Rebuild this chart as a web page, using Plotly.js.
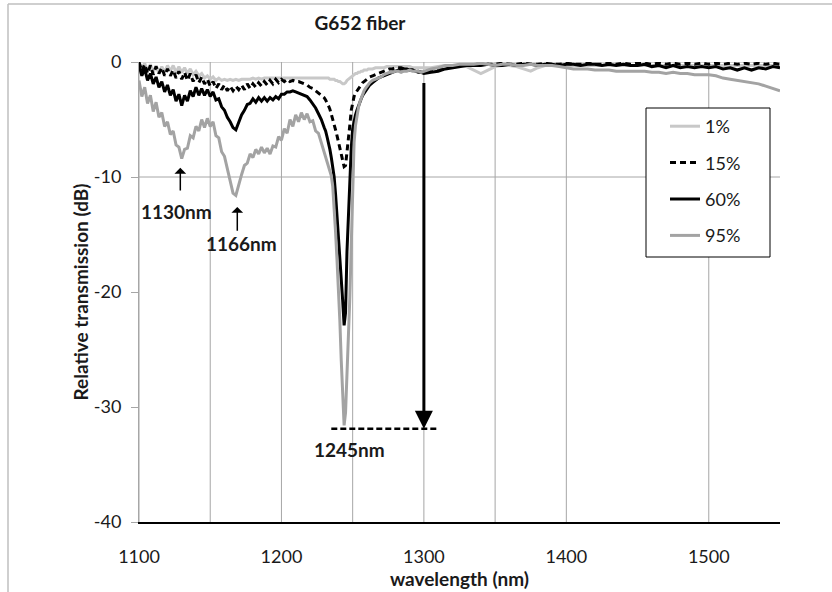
<!DOCTYPE html>
<html><head><meta charset="utf-8">
<script src="https://cdn.plot.ly/plotly-3.0.1.min.js"></script>
<style>html,body{margin:0;padding:0;background:#fff}#chart{width:832px;height:592px}</style>
</head><body><div id="chart"></div>
<script>
// wavelength samples (nm)
const wavelength = [
 1100,1102,1104,1106,1108,1110,1112,1114,1116,1118,
 1120,1122,1124,1126,1128,1130,1132,1134,1136,1138,
 1140,1142,1144,1146,1148,1150,1152,1154,1156,1158,
 1160,1162,1164,1166,1168,1170,1172,1174,1176,1178,
 1180,1182,1184,1186,1188,1190,1192,1194,1196,1198,
 1200,1202,1204,1206,1208,1210,1212,1214,1216,1218,
 1220,1222,1224,1226,1228,1230,
 1231,1232,1233,1234,1235,1236,1237,1238,1239,1240,
 1241,1242,1243,1244,1245,1246,1247,1248,1249,1250,
 1251,1252,1253,1254,1255,1256,1257,1258,1259,1260,
 1261,1262,
 1264,1266,1268,1270,1272,1274,1276,1278,1280,1282,
 1284,1286,1288,1290,1292,1294,1296,1298,1300,
 1305,1310,1315,1320,1325,1330,1335,1340,1345,1350,
 1355,1360,1365,1370,1375,1380,1385,1390,1395,1400,
 1405,1410,1415,1420,1425,1430,1435,1440,1445,1450,
 1455,1460,1465,1470,1475,1480,1485,1490,1495,1500,
 1505,1510,1515,1520,1525,1530,1535,1540,1545,1550
];

const trans1 = [
 -0.1,-0.6,-0.1,-0.8,-0.2,-0.9,-0.3,-1.0,-0.4,-0.9,
 -0.3,-0.8,-0.3,-0.9,-0.4,-0.9,-0.5,-1.0,-0.6,-1.1,
 -0.8,-1.2,-1.0,-1.4,-1.2,-1.5,-1.3,-1.6,-1.4,-1.6,
 -1.5,-1.6,-1.5,-1.6,-1.5,-1.6,-1.5,-1.5,-1.5,-1.5,
 -1.4,-1.5,-1.4,-1.5,-1.4,-1.4,-1.4,-1.4,-1.4,-1.4,
 -1.4,-1.4,-1.4,-1.4,-1.4,-1.4,-1.4,-1.4,-1.4,-1.4,
 -1.4,-1.4,-1.4,-1.4,-1.4,-1.4,
 -1.4,-1.4,-1.4,-1.5,-1.5,-1.5,-1.5,-1.6,-1.6,-1.7,
 -1.7,-1.8,-1.9,-1.9,-1.8,-1.6,-1.5,-1.4,-1.3,-1.2,
 -1.1,-1.0,-1.0,-0.9,-0.9,-0.8,-0.8,-0.7,-0.7,-0.7,
 -0.6,-0.6,
 -0.6,-0.5,-0.5,-0.5,-0.5,-0.4,-0.4,-0.4,-0.4,-0.4,
 -0.4,-0.4,-0.4,-0.4,-0.5,-0.5,-0.5,-0.5,-0.5,
 -0.5,-0.4,-0.3,-0.3,-0.3,-0.4,-0.7,-1.0,-0.7,-0.4,
 -0.3,-0.3,-0.4,-0.6,-0.8,-0.5,-0.3,-0.3,-0.3,-0.3,
 -0.3,-0.3,-0.3,-0.3,-0.3,-0.3,-0.3,-0.3,-0.3,-0.3,
 -0.3,-0.3,-0.3,-0.3,-0.3,-0.3,-0.3,-0.3,-0.3,-0.3,
 -0.3,-0.3,-0.3,-0.3,-0.3,-0.3,-0.3,-0.3,-0.3,-0.3
];

const trans15 = [
 0.0,-0.8,-0.2,-1.0,-0.3,-1.1,-0.4,-1.0,-0.5,-1.2,
 -0.6,-1.2,-0.7,-1.4,-0.8,-1.5,-0.9,-1.6,-1.0,-1.7,
 -1.1,-1.8,-1.3,-1.9,-1.5,-2.1,-1.7,-2.3,-1.9,-2.4,
 -2.0,-2.5,-2.1,-2.5,-2.1,-2.4,-2.0,-2.4,-1.9,-2.3,
 -1.9,-2.2,-1.8,-2.1,-1.7,-2.0,-1.6,-1.9,-1.5,-1.8,
 -1.5,-1.7,-1.5,-1.7,-1.6,-1.7,-1.7,-1.8,-1.9,-2.0,
 -2.2,-2.3,-2.5,-2.7,-2.9,-3.1,
 -3.3,-3.5,-3.8,-4.1,-4.5,-4.9,-5.4,-5.9,-6.4,-7.0,
 -7.6,-8.2,-8.8,-9.1,-9.0,-8.0,-6.8,-5.5,-4.2,-3.5,
 -3.0,-2.7,-2.5,-2.3,-2.1,-1.9,-1.8,-1.7,-1.6,-1.5,
 -1.4,-1.3,
 -1.2,-1.1,-1.0,-0.9,-0.8,-0.7,-0.6,-0.6,-0.5,-0.5,
 -0.5,-0.6,-0.6,-0.7,-0.7,-0.8,-0.8,-0.9,-0.9,
 -0.8,-0.7,-0.5,-0.4,-0.3,-0.3,-0.2,-0.2,-0.2,-0.2,
 -0.1,-0.2,-0.2,-0.1,-0.2,-0.2,-0.1,-0.2,-0.2,-0.1,
 -0.2,-0.2,-0.1,-0.2,-0.2,-0.1,-0.2,-0.1,-0.2,-0.1,
 -0.1,-0.2,-0.1,-0.2,-0.1,-0.2,-0.1,-0.2,-0.1,-0.2,
 -0.1,-0.2,-0.1,-0.2,-0.1,-0.2,-0.1,-0.2,-0.1,-0.2
];

const trans60 = [
 -0.3,-1.2,-0.6,-1.6,-1.0,-1.9,-1.3,-2.2,-1.7,-2.6,
 -2.0,-2.9,-2.4,-3.4,-2.8,-3.8,-2.9,-3.4,-2.5,-3.0,
 -2.2,-2.9,-2.3,-2.9,-2.4,-3.0,-2.6,-3.3,-3.2,-3.9,
 -4.2,-4.8,-5.2,-5.7,-5.9,-5.2,-4.6,-4.2,-3.7,-3.6,
 -3.2,-3.5,-3.1,-3.4,-3.1,-3.4,-3.1,-3.3,-3.0,-3.2,
 -2.8,-2.8,-2.6,-2.6,-2.5,-2.6,-2.7,-2.8,-2.9,-3.0,
 -3.3,-3.6,-4.0,-4.5,-5.0,-5.7,
 -6.0,-6.5,-7.0,-7.6,-8.3,-9.2,-10.0,-11.5,-13.2,-15.0,
 -16.8,-18.8,-20.8,-22.9,-21.8,-16.5,-13.0,-10.0,-7.5,-5.8,
 -5.0,-4.6,-4.2,-3.8,-3.5,-3.2,-2.9,-2.7,-2.5,-2.3,
 -2.1,-2.0,
 -1.8,-1.6,-1.4,-1.3,-1.2,-1.1,-1.0,-0.9,-0.8,-0.7,
 -0.6,-0.6,-0.6,-0.7,-0.7,-0.8,-0.9,-0.9,-1.0,
 -0.9,-0.8,-0.6,-0.5,-0.4,-0.3,-0.3,-0.3,-0.2,-0.3,
 -0.3,-0.2,-0.3,-0.2,-0.2,-0.3,-0.2,-0.2,-0.3,-0.2,
 -0.2,-0.3,-0.2,-0.2,-0.3,-0.2,-0.3,-0.2,-0.3,-0.3,
 -0.2,-0.4,-0.3,-0.5,-0.3,-0.5,-0.4,-0.5,-0.4,-0.5,
 -0.4,-0.6,-0.5,-0.7,-0.5,-0.7,-0.5,-0.6,-0.4,-0.5
];

const trans95 = [
 -1.6,-3.0,-2.2,-3.6,-2.9,-4.3,-3.5,-4.8,-4.4,-5.6,
 -5.2,-6.3,-6.0,-7.2,-7.4,-8.4,-7.6,-7.5,-6.4,-6.6,
 -5.6,-6.0,-5.0,-5.7,-4.9,-5.6,-5.2,-6.4,-6.6,-7.8,
 -8.2,-9.3,-10.2,-11.4,-11.6,-10.6,-9.8,-9.0,-8.8,-8.0,
 -8.3,-7.6,-8.0,-7.4,-7.9,-7.5,-8.0,-7.3,-7.4,-6.5,
 -6.8,-5.8,-6.2,-5.0,-5.6,-4.6,-5.2,-4.4,-5.0,-4.5,
 -5.2,-5.1,-6.0,-6.2,-7.0,-7.9,
 -8.2,-8.5,-8.9,-9.3,-9.9,-10.8,-12.5,-14.8,-17.2,-19.6,
 -22.5,-26.0,-29.8,-31.6,-30.5,-27.5,-24.0,-20.5,-16.0,-10.5,
 -7.0,-5.5,-4.6,-4.0,-3.5,-3.1,-2.8,-2.5,-2.3,-2.1,
 -1.9,-1.8,
 -1.6,-1.5,-1.4,-1.3,-1.1,-1.0,-0.9,-0.9,-0.8,-0.8,
 -0.9,-0.8,-0.8,-0.7,-0.8,-0.8,-0.8,-0.9,-0.8,
 -0.6,-0.5,-0.3,-0.3,-0.2,-0.2,-0.2,-0.1,-0.2,-0.3,
 -0.2,-0.2,-0.3,-0.3,-0.2,-0.3,-0.3,-0.3,-0.4,-0.5,
 -0.6,-0.6,-0.6,-0.7,-0.7,-0.7,-0.8,-0.8,-0.8,-0.8,
 -0.8,-0.9,-0.9,-1.0,-0.9,-1.0,-1.0,-1.1,-1.1,-1.1,
 -1.2,-1.4,-1.5,-1.6,-1.7,-1.8,-1.9,-2.1,-2.3,-2.5
];

const seriesNames = ['1%', '15%', '60%', '95%'];
const xTickVals = [1100, 1200, 1300, 1400, 1500];
const yTickVals = [0, -10, -20, -30, -40];
const yTickText = ['0', '-10', '-20', '-30', '-40'];
const xGridVals = [1100, 1150, 1200, 1250, 1300, 1350, 1400, 1500];
const yGridVals = [0, -10];
const peakLabels = ['1130nm', '1166nm', '1245nm'];

const FONT = 'Lato, "Liberation Sans", sans-serif';
const seriesData = [trans1, trans15, trans60, trans95];
const styles = [
  {color: '#c8c8c8', width: 3, dash: 'solid'},
  {color: '#000000', width: 3, dash: '6px,4px'},
  {color: '#000000', width: 3, dash: 'solid'},
  {color: '#a3a3a3', width: 3, dash: 'solid'}
];

const traces = seriesData.map((ys, i) => ({
  type: 'scatter', mode: 'lines', x: wavelength, y: ys, name: seriesNames[i],
  legendgroup: 'g' + i,
  line: {color: styles[i].color, width: styles[i].width, dash: styles[i].dash},
  hoverinfo: 'skip'
}));

const gridShapes = [];
xGridVals.forEach(v => gridShapes.push({type: 'line', xref: 'x', yref: 'paper', x0: v, x1: v, y0: 0, y1: 1,
  line: {color: '#a6a6a6', width: 1}, layer: 'below'}));
yGridVals.forEach(v => gridShapes.push({type: 'line', xref: 'paper', yref: 'y', x0: 0, x1: 1, y0: v, y1: v,
  line: {color: '#a6a6a6', width: 1}, layer: 'below'}));

const layout = {
  width: 832, height: 592,
  margin: {l: 139, r: 52, t: 62, b: 70},
  paper_bgcolor: '#ffffff', plot_bgcolor: '#ffffff',
  font: {family: FONT, color: '#1a1a1a', size: 18},
  title: {text: '<b>G652 fiber</b>', font: {family: FONT, size: 19, color: '#1a1a1a'},
          xref: 'container', yref: 'container', x: 360/832, xanchor: 'center',
          y: 1 - 23/592, yanchor: 'middle'},
  showlegend: true,
  legend: {x: (665-139)/641, y: (522-108)/460, xanchor: 'left', yanchor: 'top',
           bgcolor: 'rgba(0,0,0,0)', borderwidth: 0, font: {family: FONT, size: 18, color: '#1a1a1a'},
           traceorder: 'grouped', tracegroupgap: 10, itemwidth: 30},
  xaxis: {range: [1100, 1550], tickmode: 'array', tickvals: xTickVals,
          showgrid: false, zeroline: false, showline: true, linecolor: '#000000', linewidth: 1.5,
          ticks: '', ticklabelstandoff: 18,
          tickfont: {family: FONT, size: 18, color: '#1a1a1a'},
          title: {text: '<b>wavelength (nm)</b>', font: {family: FONT, size: 19, color: '#1a1a1a'}, standoff: 2}},
  yaxis: {range: [-40, 0], tickmode: 'array', tickvals: yTickVals, ticktext: yTickText,
          showgrid: false, zeroline: false, showline: true, linecolor: '#a6a6a6', linewidth: 1,
          ticks: 'outside', ticklen: 7, tickcolor: '#a6a6a6', ticklabelstandoff: 6,
          tickfont: {family: FONT, size: 18, color: '#1a1a1a'},
          title: {text: '<b>Relative transmission (dB)</b>', font: {family: FONT, size: 19, color: '#1a1a1a'}, standoff: 0}},
  shapes: gridShapes.concat([
    {type: 'line', xref: 'x', yref: 'y', x0: 1235, x1: 1310, y0: -31.9, y1: -31.9,
     line: {color: '#000000', width: 2.5, dash: '6px,3px'}},
    {type: 'rect', xref: 'paper', yref: 'paper', x0: (646-139)/641, x1: (770-139)/641,
     y0: (522-257)/460, y1: (522-108)/460, fillcolor: '#ffffff', line: {color: '#000000', width: 1}, layer: 'above'},
    {type: 'line', xref: 'paper', yref: 'paper', x0: (8-139)/641, x1: (8-139)/641, y0: -70/460, y1: (522-4)/460,
     line: {color: '#bfbfbf', width: 1.5}},
    {type: 'line', xref: 'paper', yref: 'paper', x0: (8-139)/641, x1: 693/641, y0: (522-4)/460, y1: (522-4)/460,
     line: {color: '#bfbfbf', width: 1.5}}
  ]),
  annotations: [
    {x: 1300, y: -31.9, ax: 1300, ay: -1.7, xref: 'x', yref: 'y', axref: 'x', ayref: 'y',
     text: '', showarrow: true, arrowhead: 2, arrowsize: 1.2, arrowwidth: 3, arrowcolor: '#000000'},
    {x: 1129, y: -9.2, ax: 1129, ay: -11.3, xref: 'x', yref: 'y', axref: 'x', ayref: 'y',
     text: '', showarrow: true, arrowhead: 1, arrowsize: 1.3, arrowwidth: 1.5, arrowcolor: '#000000'},
    {x: 1169, y: -12.6, ax: 1169, ay: -14.8, xref: 'x', yref: 'y', axref: 'x', ayref: 'y',
     text: '', showarrow: true, arrowhead: 1, arrowsize: 1.3, arrowwidth: 1.5, arrowcolor: '#000000'},
    {x: 1126, y: -13.0, xref: 'x', yref: 'y', text: '<b>' + peakLabels[0] + '</b>', showarrow: false,
     font: {family: FONT, size: 19, color: '#1a1a1a'}},
    {x: 1172, y: -15.8, xref: 'x', yref: 'y', text: '<b>' + peakLabels[1] + '</b>', showarrow: false,
     font: {family: FONT, size: 19, color: '#1a1a1a'}},
    {x: 1248, y: -33.7, xref: 'x', yref: 'y', text: '<b>' + peakLabels[2] + '</b>', showarrow: false,
     font: {family: FONT, size: 19, color: '#1a1a1a'}}
  ]
};

Plotly.newPlot('chart', traces, layout, {staticPlot: true, displayModeBar: false});
</script>
</body></html>
